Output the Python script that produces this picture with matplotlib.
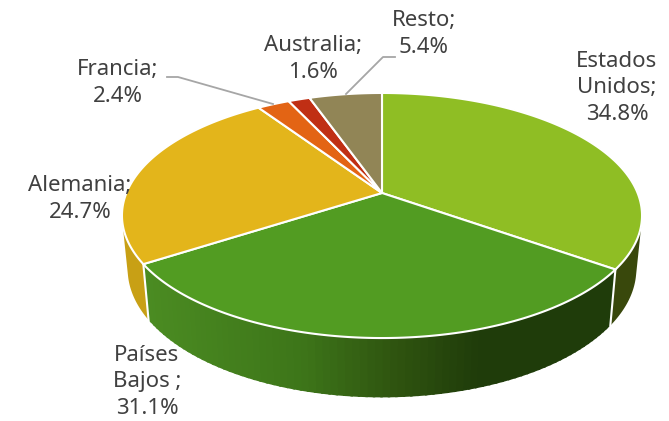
import numpy as np
import matplotlib
matplotlib.use("Agg")
import matplotlib.pyplot as plt
from matplotlib.collections import PolyCollection
from matplotlib.colors import to_rgb

categories = ["Estados\nUnidos", "Países\nBajos ", "Alemania", "Francia", "Australia", "Resto"]
values = [34.8, 31.1, 24.7, 2.4, 1.6, 5.4]
top_colors = ["#8fbe24", "#529c22", "#e3b51b", "#e36414", "#c02f14", "#918556"]

CX = 382
K = 0.1837
TOP = dict(cy=193, a=255.6, b=118.4)
BOT = dict(cy=245.5, a=250, b=124)
LABEL_POS = [(617, 88), (147, 382), (80, 199), (118, 83), (313, 59), (424, 34)]


def project(frac, f):
    t = 2 * np.pi * np.asarray(frac)
    u, v = np.sin(t), np.cos(t)
    d = 1 + K * v
    return CX + f["a"] * u / d, f["cy"] - f["b"] * v / d


def hull(points):
    pts = sorted(set(map(tuple, points)))

    def half(seq):
        out = []
        for p in seq:
            while len(out) > 1 and ((out[-1][0] - out[-2][0]) * (p[1] - out[-2][1])
                                    - (out[-1][1] - out[-2][1]) * (p[0] - out[-2][0])) <= 0:
                out.pop()
            out.append(p)
        return out[:-1]

    return np.array(half(pts) + half(pts[::-1]))


def wall_color(i, x):
    if i == 0:
        return to_rgb("#39480c")
    if i == 2:
        return to_rgb("#c8a015")
    stops = [143, 300, 400, 480]
    cols = np.array([to_rgb(c) for c in ["#4b8c22", "#3d7519", "#2e520f", "#1f3c0a"]])
    return tuple(np.interp(x, stops, cols[:, j]) for j in range(3))


fig = plt.figure(figsize=(6.69, 4.21), dpi=100)
ax = fig.add_axes([0, 0, 1, 1])
ax.set_xlim(0, 669)
ax.set_ylim(421, 0)
ax.axis("off")

edges = np.concatenate([[0], np.cumsum(values)]) / sum(values)

# side wall: solid hull for the flat slices, overlapping strips for the gradient
for i in [0, 2, 1]:
    fr = np.linspace(edges[i], edges[i + 1], 241)
    xt, yt = project(fr, TOP)
    xb, yb = project(fr, BOT)
    if i == 1:
        step = 3
        quads, cols = [], []
        for j in range(0, len(fr) - 1, step):
            e = min(j + step + 1, len(fr) - 1)
            quads.append([(xt[j], yt[j]), (xt[e], yt[e]), (xb[e], yb[e]), (xb[j], yb[j])])
            cols.append(wall_color(i, (xt[j] + xt[e]) / 2))
        ax.add_collection(PolyCollection(quads, facecolors=cols, edgecolors="none", zorder=2))
    else:
        h = hull(np.c_[np.r_[xt, xb], np.r_[yt, yb]])
        ax.fill(h[:, 0], h[:, 1], facecolor=wall_color(i, 0), edgecolor="none", zorder=2)

# wall separators
for fr in [edges[1], edges[2]]:
    xt, yt = project(fr, TOP)
    xb, yb = project(fr, BOT)
    ax.plot([xt, xb], [yt, yb], color="white", lw=1.5, zorder=3)

# top face
for i in range(len(values)):
    fr = np.linspace(edges[i], edges[i + 1], 181)
    x, y = project(fr, TOP)
    ax.fill(np.r_[CX, x], np.r_[TOP["cy"], y], facecolor=top_colors[i],
            edgecolor="white", linewidth=1.5, joinstyle="round", zorder=4)

# leader lines
ax.plot([167, 178, 273], [77, 77, 104], color="#a6a6a6", lw=1.3, zorder=5)
ax.plot([395, 383, 346], [57, 57, 94], color="#a6a6a6", lw=1.3, zorder=5)

for cat, val, (x, y) in zip(categories, values, LABEL_POS):
    ax.text(x, y, f"{cat};\n{val:.1f}%", ha="center", va="center", fontsize=16,
            color="#404040", family="Noto Sans", linespacing=1.33, zorder=6)

fig.savefig("out.png", dpi=100)
